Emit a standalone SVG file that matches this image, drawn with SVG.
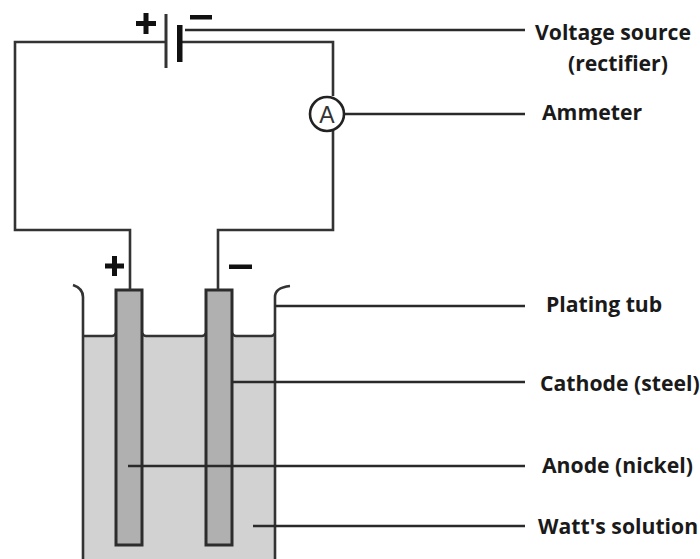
<svg xmlns="http://www.w3.org/2000/svg" width="700" height="559" viewBox="0 0 700 559">
<style>
.w{fill:none;stroke:#333;stroke-width:2.6}
.l{fill:none;stroke:#2a2a2a;stroke-width:2.4}
.e{fill:#b0b0b0;stroke:#2c2c2c;stroke-width:3}
.t{font-family:"Open Sans","DejaVu Sans",sans-serif;font-weight:700;font-size:21.2px;fill:#1a1a1a}
.s{fill:#111}
</style>
<rect width="700" height="559" fill="#fff"/>
<g id="tub">
<rect x="83" y="336" width="192" height="223" fill="#d2d2d2"/>
<path class="w" d="M73 285C79 287 83 291 83 297V336H112C114 336 115 335 116 333M142 333C143 335 144 336 146 336H202C204 336 205 335 206 333M232 333C233 335 234 336 236 336H271C273 336 274 335 275 333M275 336V297C275 291 280 287 290 286M83 336V559M275 336V559"/>
</g>
<g id="anode"><rect class="e" x="116" y="290" width="26" height="255"/></g>
<g id="cathode"><rect class="e" x="206" y="290" width="26" height="255"/></g>
<g id="connectors">
<path class="w" d="M166 42H15V230H130V290"/>
<path class="w" d="M181 42H333V96M333 131V230H218V290"/>
<path class="l" d="M185 30H525M345 114H525M275 306H525M232 382H525M128 466H525M253 526H525"/>
</g>
<g id="voltage-source">
<path d="M166 14V68" stroke="#333" stroke-width="3" fill="none"/>
<rect x="177" y="25" width="5.5" height="37" fill="#111"/>
<path class="s" d="M136 21H156V26H136ZM143.500 13H148.500V34H143.500Z"/>
<rect x="190" y="15" width="22" height="4.500" fill="#111"/>
</g>
<g id="ammeter">
<circle cx="327" cy="114" r="17" fill="#fff" stroke="#222" stroke-width="2.6"/>
<text x="327" y="122.500" text-anchor="middle" style="font-family:'Liberation Sans',sans-serif;font-size:23px;fill:#333">A</text>
</g>
<g id="polarity">
<path class="s" d="M105 263.500H124V268.500H105ZM112 256H117V276H112Z"/>
<rect x="229" y="264.500" width="23" height="4.500" fill="#111"/>
</g>
<g id="labels">
<text class="t" x="535" y="40">Voltage source</text>
<text class="t" x="568" y="71">(rectifier)</text>
<text class="t" x="542" y="120">Ammeter</text>
<text class="t" x="546" y="312">Plating tub</text>
<text class="t" x="540" y="391">Cathode (steel)</text>
<text class="t" x="542" y="473">Anode (nickel)</text>
<text class="t" x="538" y="534">Watt's solution</text>
</g>
</svg>
